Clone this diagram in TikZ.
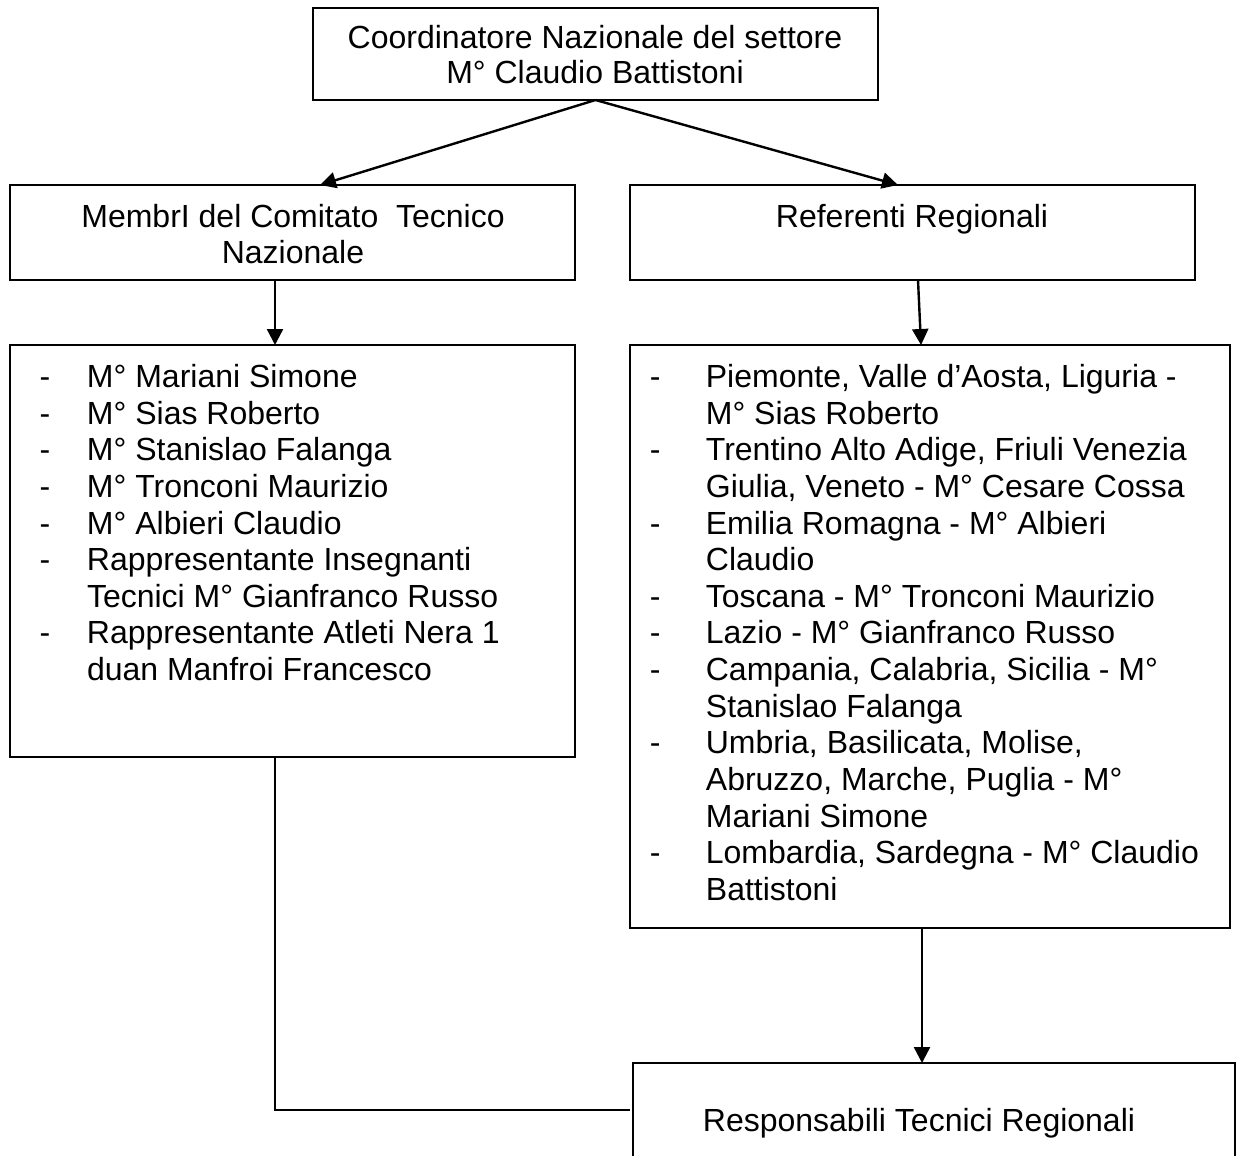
\documentclass[tikz,border=0pt]{standalone}
\usepackage{fontspec}
\setmainfont{Liberation Sans}
\usetikzlibrary{arrows.meta}
\newcommand{\lstitemL}[1]{\makebox[23.65pt][l]{-}#1}
\newcommand{\lstcontL}[1]{\hspace*{23.65pt}#1}
\newcommand{\lstitemR}[1]{\makebox[28pt][l]{-}#1}
\newcommand{\lstcontR}[1]{\hspace*{28pt}#1}
\begin{document}
\begin{tikzpicture}[x=0.5pt,y=-0.5pt,
  box/.style={draw, line width=1.2pt, anchor=north west, inner sep=0pt, outer sep=0pt},
  txt/.style={anchor=base, inner sep=0pt, font=\fontsize{16}{18.32}\selectfont},
  lst/.style={anchor=base west, inner sep=0pt, font=\fontsize{16}{18.32}\selectfont},
  arr/.style={line width=1.2pt, -{Triangle[length=8pt,width=8pt]}},
  conn/.style={line width=1.2pt}]
\useasboundingbox (0,0) rectangle (1240,1155);
\clip (0,0) rectangle (1240,1155);
% boxes
\node[box, minimum width=282.5pt, minimum height=46pt] (top) at (313,8) {};
\node[box, minimum width=282.5pt, minimum height=47.5pt] (mem) at (10,185) {};
\node[box, minimum width=282.5pt, minimum height=47.5pt] (ref) at (630,185) {};
\node[box, minimum width=282.5pt, minimum height=206pt] (memlist) at (10,345) {};
\node[box, minimum width=300pt, minimum height=291.5pt] (reflist) at (630,345) {};
\node[box, minimum width=301pt, minimum height=75pt] (resp) at (633,1063) {};
% texts
\node[txt] (t1) at (595,48.5) {Coordinatore Nazionale del settore};
\node[txt] (t2) at (595,84) {M° Claudio Battistoni};
\node[txt] (m1) at (293,227.5) {MembrI del Comitato\ \ Tecnico};
\node[txt] (m2) at (293,263.5) {Nazionale};
\node[txt] (r1) at (912,227.5) {Referenti Regionali};
\node[txt] (s1) at (919,1131.5) {Responsabili Tecnici Regionali};
\node[lst] (ml) at (39.3,387.5) {\parbox[t]{270pt}{\fontsize{16}{18.32}\selectfont\raggedright
\lstitemL{M° Mariani Simone}\\
\lstitemL{M° Sias Roberto}\\
\lstitemL{M° Stanislao Falanga}\\
\lstitemL{M° Tronconi Maurizio}\\
\lstitemL{M° Albieri Claudio}\\
\lstitemL{Rappresentante Insegnanti}\\
\lstcontL{Tecnici M° Gianfranco Russo}\\
\lstitemL{Rappresentante Atleti Nera 1}\\
\lstcontL{duan Manfroi Francesco}}};
\node[lst] (rl) at (649.5,387.5) {\parbox[t]{290pt}{\fontsize{16}{18.32}\selectfont\raggedright
\lstitemR{Piemonte, Valle d’Aosta, Liguria -}\\
\lstcontR{M° Sias Roberto}\\
\lstitemR{Trentino Alto Adige, Friuli Venezia}\\
\lstcontR{Giulia, Veneto - M° Cesare Cossa}\\
\lstitemR{Emilia Romagna - M° Albieri}\\
\lstcontR{Claudio}\\
\lstitemR{Toscana - M° Tronconi Maurizio}\\
\lstitemR{Lazio - M° Gianfranco Russo}\\
\lstitemR{Campania, Calabria, Sicilia - M°}\\
\lstcontR{Stanislao Falanga}\\
\lstitemR{Umbria, Basilicata, Molise,}\\
\lstcontR{Abruzzo, Marche, Puglia - M°}\\
\lstcontR{Mariani Simone}\\
\lstitemR{Lombardia, Sardegna - M° Claudio}\\
\lstcontR{Battistoni}}};
% connectors
\draw[arr] (top.south) -- ([xshift=155pt]mem.north west);
\draw[arr] (top.south) -- ([xshift=134pt]ref.north west);
\draw[arr] ([xshift=132.5pt]mem.south west) -- ([xshift=132.5pt]memlist.north west);
\draw[arr] ([xshift=144pt]ref.south west) -- ([xshift=145.5pt]reflist.north west);
\draw[arr] ([xshift=146pt]reflist.south west) -- ([xshift=144.5pt]resp.north west);
\draw[conn] ([xshift=132.5pt]memlist.south west) |- ([yshift=-23.5pt,xshift=-1.5pt]resp.north west);
\end{tikzpicture}
\end{document}
